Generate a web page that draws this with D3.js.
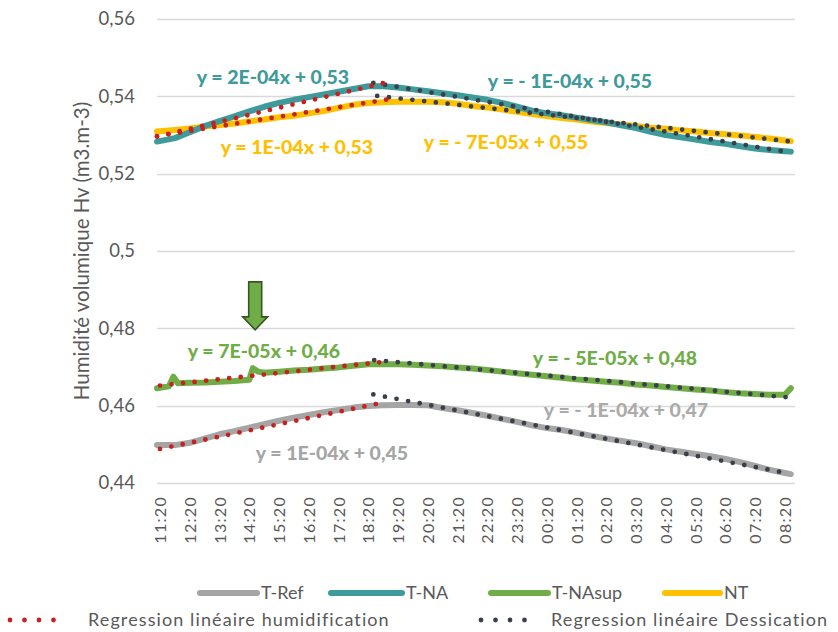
<!DOCTYPE html>
<html>
<head>
<meta charset="utf-8">
<script src="https://cdn.jsdelivr.net/npm/d3@7"></script>
<style>
  body { margin: 0; background: #fff; }
  text { font-family: Lato, "Open Sans", sans-serif; }
</style>
</head>
<body>
<div id="chart"></div>
<script>
// hours after 11:20
var hours = [-0.1, 0.5, 1, 1.5, 2, 2.5, 3, 3.5, 4, 4.5, 5, 5.5, 6, 6.5, 7, 7.5, 8, 8.5, 9, 9.5, 10,
             10.5, 11, 11.5, 12, 12.5, 13, 13.5, 14, 14.5, 15, 15.5, 16, 16.5, 17, 17.5, 18, 18.5,
             19, 19.5, 20, 20.5, 21, 21.2];

var tRef = [.4498, .4498, .4504, .4515, .4526, .4534, .4543, .4552, .4561, .4569, .4576, .4583, .4589,
            .4595, .4599, .4601, .4602, .4602, .4601, .4594, .4588, .4581, .4574, .4566, .4558, .4549,
            .4542, .4537, .4530, .4522, .4515, .4509, .4503, .4495, .4487, .4481, .4475, .4469, .4462,
            .4454, .4444, .4434, .4426, .4423];

var tNA = [.5283, .5292, .5307, .5323, .5336, .5348, .5361, .5373, .5383, .5391, .5398, .5405, .5412,
           .5419, .5426, .5426, .5423, .5418, .5413, .5408, .5403, .5397, .5391, .5383, .5373, .5363,
           .5356, .5351, .5345, .5339, .5333, .5325, .5318, .5308, .5300, .5294, .5288, .5282, .5277,
           .5271, .5265, .5261, .5258, .5257];

var nt = [.5309, .5313, .5317, .5322, .5326, .5330, .5335, .5340, .5346, .5350, .5356, .5362, .5370,
          .5378, .5383, .5385, .5386, .5386, .5386, .5385, .5381, .5375, .5371, .5366, .5360, .5354,
          .5349, .5344, .5340, .5335, .5331, .5327, .5323, .5319, .5316, .5312, .5309, .5305, .5302,
          .5299, .5295, .5291, .5286, .5284];

// T-NAsup has its own sampling (it has two short jumps)
var supHours = [-0.1, 0.3, 0.45, 0.6, 1, 1.5, 2, 2.5, 3, 3.12, 3.3, 3.5, 4, 4.5, 5, 5.5, 6, 6.5, 7, 7.5,
                8, 8.5, 9, 9.5, 10, 10.5, 11, 11.5, 12, 12.5, 13, 13.5, 14, 14.5, 15, 15.5, 16, 16.5,
                17, 17.5, 18, 18.5, 19, 19.5, 20, 20.5, 21, 21.2];
var tNAsup = [.4645, .4650, .4675, .4658, .4659, .4660, .4662, .4664, .4667, .4697, .4688, .4685, .4688,
              .4691, .4693, .4696, .4699, .4703, .4707, .4707, .4707, .4706, .4704, .4702, .4699, .4696,
              .4692, .4688, .4684, .4680, .4676, .4672, .4668, .4665, .4662, .4659, .4655, .4652, .4648,
              .4645, .4642, .4639, .4635, .4632, .4630, .4628, .4628, .4645];

var seriesNames = ["T-Ref", "T-NA", "T-NAsup", "NT"];
var seriesColors = ["#A5A5A5", "#3F9A9B", "#70AD47", "#FFC000"];

// linear trend lines, order as seriesNames
var humFrom = [0, -0.1, 0, -0.1],   humTo = [7.55, 7.5, 7.6, 7.66];
var humV0 = [.4488, .5296, .4652, .5297], humV1 = [.4609, .5434, .4714, .5392];
var desFrom = [7.17, 7.17, 7.2, 7.3], desTo = [20.9, 21.0, 21.05, 21.1];
var desV0 = [.4629, .5435, .4718, .5401], desV1 = [.4428, .5257, .4622, .5284];

var equations = ["y = 1E-04x + 0,45", "y = - 1E-04x + 0,47",
                 "y = 2E-04x + 0,53", "y = - 1E-04x + 0,55",
                 "y = 7E-05x + 0,46", "y = - 5E-05x + 0,48",
                 "y = 1E-04x + 0,53", "y = - 7E-05x + 0,55"];

var xTickLabels = ["11:20", "12:20", "13:20", "14:20", "15:20", "16:20", "17:20", "18:20", "19:20",
                   "20:20", "21:20", "22:20", "23:20", "00:20", "01:20", "02:20", "03:20", "04:20",
                   "05:20", "06:20", "07:20", "08:20"];
var yTickValues = [0.44, 0.46, 0.48, 0.50, 0.52, 0.54, 0.56];
var yTickLabels = ["0,44", "0,46", "0,48", "0,5", "0,52", "0,54", "0,56"];

var width = 838, height = 632;
var plot = { left: 157, right: 795, top: 19, bottom: 483 };

var svg = d3.select("#chart").append("svg")
    .attr("width", width)
    .attr("height", height);

var x = d3.scaleLinear().domain([-0.1, 21.34]).range([plot.left, plot.right]);
var y = d3.scaleLinear().domain([0.44, 0.56]).range([plot.bottom, plot.top]);

// gridlines
svg.append("g")
    .selectAll("line")
    .data(yTickValues)
    .enter().append("line")
    .attr("x1", plot.left).attr("x2", plot.right)
    .attr("y1", function(d) { return Math.round(y(d)) + 0.5; })
    .attr("y2", function(d) { return Math.round(y(d)) + 0.5; })
    .attr("stroke", "#D9D9D9")
    .attr("stroke-width", 1.3);

// y axis labels
var yAxis = d3.axisLeft(y)
    .tickValues(yTickValues)
    .tickFormat(function(d, i) { return yTickLabels[i]; })
    .tickSize(0).tickPadding(22);
var yg = svg.append("g")
    .attr("transform", "translate(" + plot.left + ",0)")
    .call(yAxis);
yg.select(".domain").remove();
yg.selectAll("text")
    .attr("fill", "#595959")
    .style("font-size", "18.5px")
    .style("font-family", "Lato, sans-serif");

// x axis labels
var xAxis = d3.axisBottom(x)
    .tickValues(d3.range(xTickLabels.length))
    .tickFormat(function(d, i) { return xTickLabels[i]; })
    .tickSize(0);
var xg = svg.append("g")
    .attr("transform", "translate(0," + plot.bottom + ")")
    .call(xAxis);
xg.select(".domain").remove();
xg.selectAll("text")
    .attr("fill", "#595959")
    .style("font-size", "16px")
    .style("letter-spacing", "1.3px")
    .style("font-family", "Lato, sans-serif")
    .attr("transform", "rotate(-90)")
    .attr("text-anchor", "end")
    .attr("x", -13)
    .attr("y", 0)
    .attr("dy", "0.35em");

// y axis title
svg.append("text")
    .attr("transform", "translate(82,251) rotate(-90)")
    .attr("text-anchor", "middle")
    .attr("dy", "0.35em")
    .attr("fill", "#595959")
    .style("font-size", "20.5px")
    .text("Humidité volumique Hv (m3.m-3)");

// data lines
var line = d3.line()
    .x(function(d) { return x(d[0]); })
    .y(function(d) { return y(d[1]); });

var seriesData = [
    d3.zip(hours, tRef),
    d3.zip(hours, tNA),
    d3.zip(supHours, tNAsup),
    d3.zip(hours, nt)
];
// draw order: T-Ref, NT, T-NA, T-NAsup
[0, 3, 1, 2].forEach(function(i) {
    svg.append("path")
        .datum(seriesData[i])
        .attr("d", line)
        .attr("fill", "none")
        .attr("stroke", seriesColors[i])
        .attr("stroke-width", 6)
        .attr("stroke-linejoin", "round")
        .attr("stroke-linecap", "round");
});

// trend lines (dotted)
var humColor = "#C8201F", desColor = "#394049";
seriesNames.forEach(function(name, i) {
    svg.append("path")
        .datum([[desFrom[i], desV0[i]], [desTo[i], desV1[i]]])
        .attr("d", line)
        .attr("fill", "none")
        .attr("stroke", desColor)
        .attr("stroke-width", 4.8)
        .attr("stroke-linecap", "round")
        .attr("stroke-dasharray", "0 11.8");
    svg.append("path")
        .datum([[humFrom[i], humV0[i]], [humTo[i], humV1[i]]])
        .attr("d", line)
        .attr("fill", "none")
        .attr("stroke", humColor)
        .attr("stroke-width", 4.8)
        .attr("stroke-linecap", "round")
        .attr("stroke-dasharray", "0 11.6");
});

// equation labels
var eqColors = ["#A5A5A5", "#ABABAB", "#3F9A9B", "#3F9A9B", "#70AD47", "#70AD47", "#FFC000", "#FFC000"];
var eqPos = [[332, 460], [626, 417], [273, 84], [570, 88], [264, 358], [615, 365], [297, 154], [506, 149]];
svg.append("g")
    .selectAll("text")
    .data(equations)
    .enter().append("text")
    .attr("x", function(d, i) { return eqPos[i][0]; })
    .attr("y", function(d, i) { return eqPos[i][1]; })
    .attr("text-anchor", "middle")
    .attr("fill", function(d, i) { return eqColors[i]; })
    .style("font-size", "19.5px")
    .style("font-weight", "900")
    .text(function(d) { return d; });

// green arrow (tip at 14:32)
var tipX = x(3.2), tipY = y(0.4796);
svg.append("path")
    .attr("d", "M" + (tipX - 6.5) + "," + (tipY - 48) + " h13 v35 h6 l-12.5,13 l-12.5,-13 h6 z")
    .attr("fill", "#70AD47")
    .attr("stroke", "#375623")
    .attr("stroke-width", 1.6);

// legend row 1
var legItems = [
    { x: 200, w: 57 },
    { x: 331, w: 71 },
    { x: 491, w: 57 },
    { x: 665, w: 55 }
];
var leg = svg.append("g");
legItems.forEach(function(it, i) {
    leg.append("line")
        .attr("x1", it.x).attr("x2", it.x + it.w)
        .attr("y1", 593).attr("y2", 593)
        .attr("stroke", seriesColors[i])
        .attr("stroke-width", 6)
        .attr("stroke-linecap", "round");
    leg.append("text")
        .attr("x", it.x + it.w + 4)
        .attr("y", 593)
        .attr("dy", "0.35em")
        .attr("fill", "#595959")
        .style("font-size", "18px")
        .text(seriesNames[i]);
});

// legend row 2
var leg2 = [
    { x: 10, color: humColor, label: "Regression linéaire humidification", tx: 88 },
    { x: 481, color: desColor, label: "Regression linéaire Dessication", tx: 551 }
];
leg2.forEach(function(it) {
    leg.append("line")
        .attr("x1", it.x).attr("x2", it.x + 58)
        .attr("y1", 620).attr("y2", 620)
        .attr("stroke", it.color)
        .attr("stroke-width", 4.8)
        .attr("stroke-linecap", "round")
        .attr("stroke-dasharray", "0 14.5");
    leg.append("text")
        .attr("x", it.tx)
        .attr("y", 620)
        .attr("dy", "0.35em")
        .attr("fill", "#595959")
        .style("font-size", "18px")
        .style("letter-spacing", "1.1px")
        .text(it.label);
});
</script>
</body>
</html>
